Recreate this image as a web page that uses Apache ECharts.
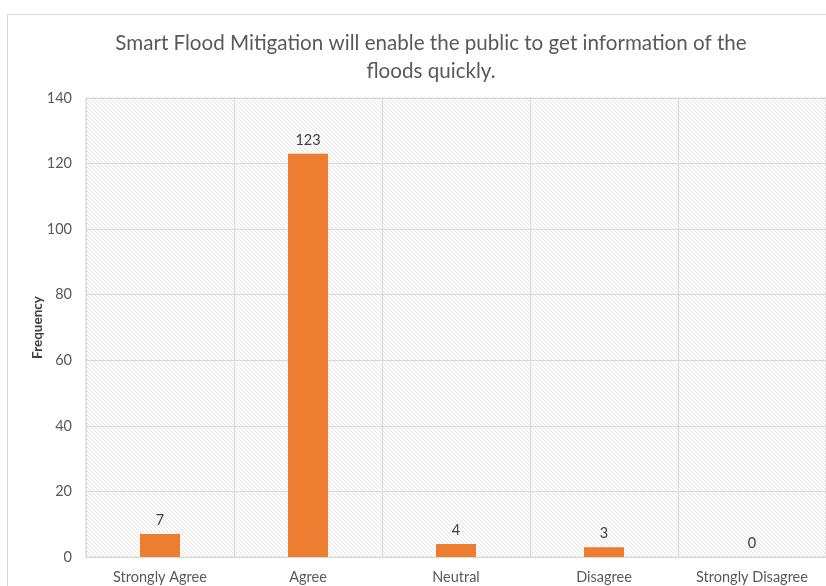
<!DOCTYPE html>
<html><head><meta charset="utf-8">
<script src="https://cdn.jsdelivr.net/npm/echarts@6/dist/echarts.min.js"></script>
<style>html,body{margin:0;padding:0;background:#fff}#c{width:826px;height:586px}
#frame{position:absolute;left:7px;top:14px;width:840px;height:600px;border:1px solid #d9d9d9;box-sizing:border-box;pointer-events:none}</style>
</head><body><div id="c"></div><div id="frame"></div>
<script>
var categories = ['Strongly Agree', 'Agree', 'Neutral', 'Disagree', 'Strongly Disagree'];
var frequency = [7, 123, 4, 3, 0];
var titleText = 'Smart Flood Mitigation will enable the public to get information of the\nfloods quickly.';

var pc = document.createElement('canvas');
pc.width = 4; pc.height = 4;
var g = pc.getContext('2d');
g.fillStyle = '#ffffff'; g.fillRect(0,0,4,4);
g.strokeStyle = '#e2e2e2'; g.lineWidth = 1;
g.beginPath();
g.moveTo(-1,-1); g.lineTo(5,5);
g.moveTo(-5,-1); g.lineTo(1,5);
g.moveTo(3,-1); g.lineTo(9,5);
g.stroke();

var chart = echarts.init(document.getElementById('c'));
chart.setOption({
  animation: false,
  title: {
    text: titleText, left: 426, top: 24, textAlign: 'center',
    textStyle: { fontFamily: 'Lato', fontSize: 20.6, fontWeight: 'normal', color: '#595959', lineHeight: 28 }
  },
  grid: { left: 86, right: 0, top: 98, bottom: 29, show: true, backgroundColor: {image: pc, repeat: 'repeat'}, borderColor: '#d9d9d9', borderWidth: 1 },
  xAxis: {
    type: 'category', data: categories,
    axisLine: { lineStyle: { color: '#d9d9d9' } },
    axisTick: { show: false },
    splitLine: { show: true, lineStyle: { color: '#d9d9d9' } },
    axisLabel: { color: '#595959', fontFamily: 'Lato', fontSize: 14.5, margin: 13 }
  },
  yAxis: {
    type: 'value', min: 0, max: 140, interval: 20,
    name: 'Frequency', nameLocation: 'middle', nameGap: 41, nameRotate: 90, nameMoveOverlap: false,
    nameTextStyle: { color: '#404040', fontFamily: 'Lato', fontSize: 13.5, fontWeight: 'bold' },
    axisLine: { show: false }, axisTick: { show: false },
    splitLine: { lineStyle: { color: '#d9d9d9' } },
    axisLabel: { color: '#595959', fontFamily: 'Lato', fontSize: 14.5, margin: 14 }
  },
  series: [{
    type: 'bar', data: frequency, barWidth: 40,
    itemStyle: { color: '#ED7D31' },
    label: { show: true, position: 'top', color: '#404040', fontFamily: 'Lato', fontSize: 14.5, distance: 6 }
  }]
});
</script></body></html>
